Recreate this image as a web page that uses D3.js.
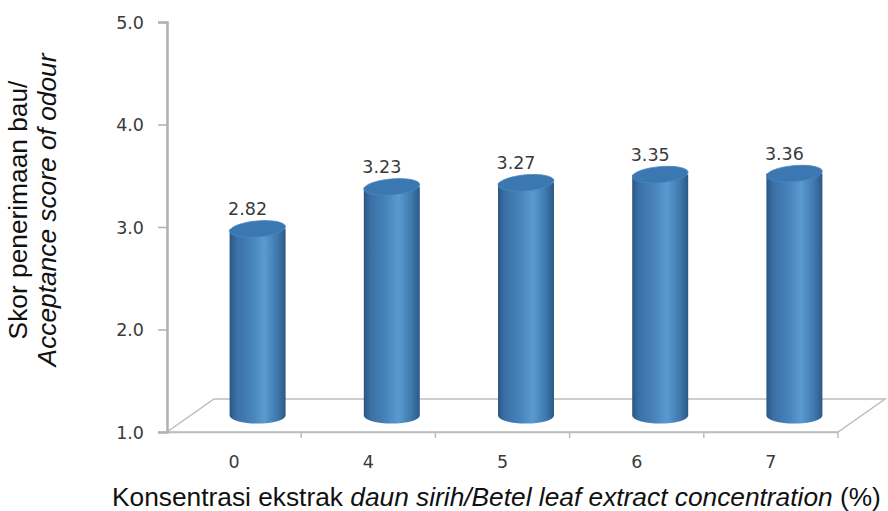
<!DOCTYPE html>
<html>
<head>
<meta charset="utf-8">
<script src="https://cdn.jsdelivr.net/npm/d3@7"></script>
<style>
  body { margin: 0; background: #fff; }
  svg { display: block; }
  .tick-label { font-family: "DejaVu Sans", Verdana, sans-serif; font-size: 17.5px; fill: #3a3a3a; }
  .title { font-family: "Liberation Sans", Arial, sans-serif; font-size: 26.3px; fill: #111; }
</style>
</head>
<body>
<svg id="chart" width="888" height="511"></svg>
<script>
var categories = ["0", "4", "5", "6", "7"];
var scores = [2.82, 3.23, 3.27, 3.35, 3.36];
var yTicks = [1, 2, 3, 4, 5];

var svg = d3.select("#chart");

// front plane of the 3d box, depth offset goes up-right
var plot = { left: 167, right: 838, bottom: 432, top: 22 };
var depth = { dx: 47, dy: -33 };

var x = d3.scaleBand().domain(categories).range([plot.left, plot.right]);
var y = d3.scaleLinear().domain([1, 5]).range([plot.bottom, plot.top]);

var grad = svg.append("defs").append("linearGradient")
    .attr("id", "cyl").attr("x1", "0").attr("x2", "1").attr("y1", "0").attr("y2", "0");
[[0, "#2a5784"], [0.12, "#3a70a6"], [0.4, "#4883bb"], [0.62, "#5a9ad0"], [0.86, "#3e77ac"], [1, "#2b5986"]]
  .forEach(function (s) {
    grad.append("stop").attr("offset", s[0]).attr("stop-color", s[1]);
  });

// floor
var floorColor = "#bdbdbd";
svg.append("path")
    .attr("d", "M" + plot.left + "," + plot.bottom +
      "L" + (plot.left + depth.dx) + "," + (plot.bottom + depth.dy) +
      "L" + (plot.right + depth.dx) + "," + (plot.bottom + depth.dy) +
      "L" + plot.right + "," + plot.bottom + "Z")
    .attr("fill", "none")
    .attr("stroke", floorColor)
    .attr("stroke-width", 1.5);

// y axis
var yAxis = svg.append("g").attr("transform", "translate(" + plot.left + ",0)")
    .call(d3.axisLeft(y).tickValues(yTicks).tickFormat(d3.format(".1f")).tickSize(9).tickPadding(14));
yAxis.select(".domain").attr("stroke", "#b0b0b0").attr("stroke-width", 2.5);
yAxis.selectAll(".tick line").attr("stroke", "#b0b0b0").attr("stroke-width", 1.5);
yAxis.selectAll(".tick text").attr("class", "tick-label").attr("fill", null).attr("dy", "0.36em");
yAxis.attr("font-family", null).attr("font-size", null);

// x axis
var xAxis = svg.append("g").attr("transform", "translate(0," + plot.bottom + ")")
    .call(d3.axisBottom(x).tickSize(0).tickPadding(24));
xAxis.select(".domain").attr("stroke", floorColor).attr("stroke-width", 1.5);
xAxis.selectAll(".tick text").attr("class", "tick-label").attr("fill", null);
xAxis.attr("font-family", null).attr("font-size", null);
// dividers between categories
svg.append("g").selectAll("line")
    .data(categories.slice(1).concat([null]))
    .join("line")
    .attr("x1", function (d) { return d === null ? plot.right : x(d); })
    .attr("x2", function (d) { return d === null ? plot.right : x(d); })
    .attr("y1", plot.bottom).attr("y2", plot.bottom + 6)
    .attr("stroke", floorColor).attr("stroke-width", 1.5);

// cylinders
var rx = 28, ry = 8;
var cx = function (d, i) { return x(categories[i]) + x.bandwidth() / 2 + depth.dx / 2; };
var yAt = function (v) { return y(v) + depth.dy / 2; };

var bars = svg.append("g").selectAll("g")
    .data(scores)
    .join("g");

bars.append("path")
    .attr("d", function (d, i) {
      var c = cx(d, i), yt = yAt(d), yb = yAt(1);
      return "M" + (c - rx) + "," + yt + "L" + (c - rx) + "," + yb +
        "A" + rx + "," + ry + " 0 0 0 " + (c + rx) + "," + yb +
        "L" + (c + rx) + "," + yt + "Z";
    })
    .attr("fill", "url(#cyl)");

bars.append("ellipse")
    .attr("transform", function (d, i) {
      return "translate(" + cx(d, i) + "," + yAt(d) + ") rotate(-5)";
    })
    .attr("rx", rx).attr("ry", ry)
    .attr("fill", "#3b77b0")
    .attr("stroke", "#4a86bf")
    .attr("stroke-width", 0.8);

bars.append("text")
    .attr("class", "tick-label")
    .attr("text-anchor", "middle")
    .attr("x", function (d, i) { return cx(d, i) - 10; })
    .attr("y", function (d) { return yAt(d) - ry - 6; })
    .text(function (d) { return d3.format(".2f")(d); });

// axis titles
var yTitle = svg.append("text")
    .attr("class", "title")
    .attr("text-anchor", "middle")
    .attr("transform", "translate(27,210) rotate(-90)");
yTitle.append("tspan").attr("x", 0).attr("y", 0).text("Skor penerimaan bau/");
yTitle.append("tspan").attr("x", 0).attr("y", 29).attr("font-style", "italic").text("Acceptance score of odour");

var xTitle = svg.append("text")
    .attr("class", "title")
    .attr("x", 112)
    .attr("y", 506);
xTitle.append("tspan").text("Konsentrasi ekstrak ");
xTitle.append("tspan").attr("font-style", "italic").text("daun sirih/Betel leaf extract concentration");
xTitle.append("tspan").text(" (%)");
</script>
</body>
</html>
